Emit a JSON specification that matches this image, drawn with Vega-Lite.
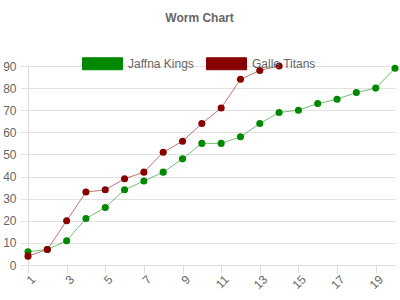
{
  "$schema": "https://vega.github.io/schema/vega-lite/v6.json",
  "autosize": "none",
  "width": 367,
  "height": 199,
  "padding": {"left": 28, "top": 66, "right": 5, "bottom": 35},
  "background": "white",
  "title": {
    "text": "Worm Chart",
    "anchor": "middle",
    "frame": "group",
    "dx": -12,
    "fontSize": 12,
    "font": "Liberation Sans",
    "fontWeight": "bold",
    "color": "#666666",
    "offset": 18
  },
  "config": {
    "view": {"stroke": null},
    "font": "Liberation Sans"
  },
  "data": {
    "values": [
      {"team": "Jaffna Kings", "over": 1, "runs": 6},
      {"team": "Jaffna Kings", "over": 2, "runs": 7},
      {"team": "Jaffna Kings", "over": 3, "runs": 11},
      {"team": "Jaffna Kings", "over": 4, "runs": 21},
      {"team": "Jaffna Kings", "over": 5, "runs": 26},
      {"team": "Jaffna Kings", "over": 6, "runs": 34},
      {"team": "Jaffna Kings", "over": 7, "runs": 38},
      {"team": "Jaffna Kings", "over": 8, "runs": 42},
      {"team": "Jaffna Kings", "over": 9, "runs": 48},
      {"team": "Jaffna Kings", "over": 10, "runs": 55},
      {"team": "Jaffna Kings", "over": 11, "runs": 55},
      {"team": "Jaffna Kings", "over": 12, "runs": 58},
      {"team": "Jaffna Kings", "over": 13, "runs": 64},
      {"team": "Jaffna Kings", "over": 14, "runs": 69},
      {"team": "Jaffna Kings", "over": 15, "runs": 70},
      {"team": "Jaffna Kings", "over": 16, "runs": 73},
      {"team": "Jaffna Kings", "over": 17, "runs": 75},
      {"team": "Jaffna Kings", "over": 18, "runs": 78},
      {"team": "Jaffna Kings", "over": 19, "runs": 80},
      {"team": "Jaffna Kings", "over": 20, "runs": 89},
      {"team": "Galle Titans", "over": 1, "runs": 4},
      {"team": "Galle Titans", "over": 2, "runs": 7},
      {"team": "Galle Titans", "over": 3, "runs": 20},
      {"team": "Galle Titans", "over": 4, "runs": 33},
      {"team": "Galle Titans", "over": 5, "runs": 34},
      {"team": "Galle Titans", "over": 6, "runs": 39},
      {"team": "Galle Titans", "over": 7, "runs": 42},
      {"team": "Galle Titans", "over": 8, "runs": 51},
      {"team": "Galle Titans", "over": 9, "runs": 56},
      {"team": "Galle Titans", "over": 10, "runs": 64},
      {"team": "Galle Titans", "over": 11, "runs": 71},
      {"team": "Galle Titans", "over": 12, "runs": 84},
      {"team": "Galle Titans", "over": 13, "runs": 88},
      {"team": "Galle Titans", "over": 14, "runs": 90}
    ]
  },
  "encoding": {
    "x": {
      "field": "over",
      "type": "quantitative",
      "scale": {"domain": [1, 20], "nice": false, "zero": false},
      "axis": {
        "title": null,
        "values": [1, 3, 5, 7, 9, 11, 13, 15, 17, 19],
        "grid": false,
        "domainColor": "#dddddd",
        "tickColor": "#dddddd",
        "tickSize": 8,
        "labelAngle": -45,
        "labelAlign": "right",
        "labelBaseline": "middle",
        "labelOffset": 5,
        "labelPadding": 4,
        "labelFontSize": 12,
        "labelColor": "#666666",
        "labelFont": "Liberation Sans"
      }
    },
    "y": {
      "field": "runs",
      "type": "quantitative",
      "scale": {"domain": [0, 90], "nice": false},
      "axis": {
        "title": null,
        "values": [0, 10, 20, 30, 40, 50, 60, 70, 80, 90],
        "grid": true,
        "gridColor": "#e2e2e2",
        "domainColor": "#dddddd",
        "tickColor": "#e2e2e2",
        "tickSize": 8,
        "labelPadding": 4,
        "labelFontSize": 12,
        "labelColor": "#666666",
        "labelFont": "Liberation Sans"
      }
    },
    "color": {
      "field": "team",
      "type": "nominal",
      "scale": {"domain": ["Jaffna Kings", "Galle Titans"], "range": ["#008800", "#880000"]},
      "legend": {
        "title": null,
        "orient": "none",
        "direction": "horizontal",
        "legendX": 54,
        "legendY": -23,
        "symbolType": "M-1,-0.3H1V0.3H-1Z",
        "symbolSize": 1600,
        "symbolStrokeWidth": 1,
        "symbolOpacity": 1,
        "labelFontSize": 12,
        "labelColor": "#666666",
        "labelFont": "Liberation Sans",
        "labelOffset": 5,
        "columnPadding": 10
      }
    }
  },
  "layer": [
    {
      "mark": {"type": "line", "strokeWidth": 1, "strokeOpacity": 0.55}
    },
    {
      "mark": {"type": "point", "filled": true, "size": 50, "opacity": 1, "strokeWidth": 1}
    }
  ]
}
